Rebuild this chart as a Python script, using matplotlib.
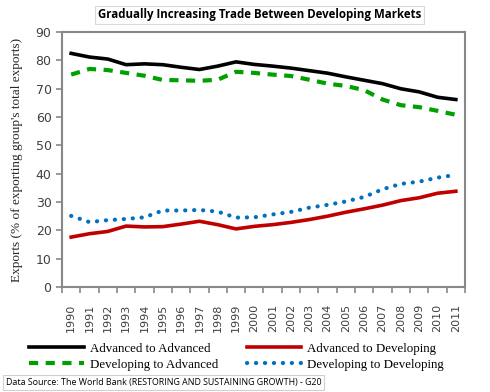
import matplotlib.pyplot as plt

# data
years = [str(y) for y in range(1990, 2012)]
adv_to_adv = [82.5, 81.2, 80.5, 78.5, 78.8, 78.5, 77.6, 76.8, 78.0, 79.5, 78.6, 78.0, 77.3, 76.4, 75.5, 74.2, 73.0, 71.8, 70.0, 68.9, 67.0, 66.2]
dev_to_adv = [75.0, 77.0, 76.6, 75.6, 74.6, 73.1, 73.0, 72.8, 73.2, 76.0, 75.6, 75.0, 74.5, 73.2, 71.8, 71.0, 69.5, 66.2, 64.2, 63.5, 62.2, 60.8]
adv_to_dev = [17.6, 18.8, 19.6, 21.5, 21.2, 21.3, 22.2, 23.2, 22.0, 20.5, 21.4, 22.0, 22.8, 23.8, 25.0, 26.4, 27.6, 28.9, 30.5, 31.5, 33.1, 33.8]
dev_to_dev = [25.1, 22.9, 23.6, 24.0, 24.6, 27.0, 27.0, 27.2, 26.6, 24.5, 24.6, 25.6, 26.5, 28.0, 29.0, 30.2, 31.8, 34.5, 36.4, 37.2, 38.6, 39.6]
yticks = list(range(0, 100, 10))

fig = plt.figure(figsize=(4.9, 3.92), dpi=100, facecolor='white')
ax = fig.add_axes([0.1265, 0.268, 0.8225, 0.65])

x = range(len(years))
l1, = ax.plot(x, adv_to_adv, color='black', linewidth=2.6, label='Advanced to Advanced')
l2, = ax.plot(x, adv_to_dev, color='#c00000', linewidth=2.6, label='Advanced to Developing')
l3, = ax.plot(x, dev_to_adv, color='#00a000', linewidth=3, linestyle=(0, (2.2, 1.8)),
              label='Developing to Advanced')
l4, = ax.plot(x, dev_to_dev, color='#0070c0', linewidth=3, linestyle=(0, (0.05, 2.1)),
              dash_capstyle='round', label='Developing to Developing')

ax.set_xlim(-0.5, len(years) - 0.5)
ax.set_ylim(0, 90)
ax.set_yticks(yticks)
ax.set_yticklabels([str(v) for v in yticks], fontsize=9, color='#404040', family='DejaVu Sans')
# tick marks between categories, labels centred on categories (Excel style)
ax.set_xticks([i - 0.5 for i in range(len(years) + 1)], minor=False)
ax.set_xticklabels([])
ax.set_xticks(list(x), minor=True)
ax.set_xticklabels(years, minor=True, rotation=90, fontsize=8, color='#404040', family='DejaVu Sans')
ax.tick_params(axis='x', which='minor', length=0, pad=12)
ax.tick_params(axis='x', which='major', length=4, width=1.2, color='#888888')
ax.tick_params(axis='y', length=4, width=1.2, color='#888888')
for s in ax.spines.values():
    s.set_color('#888888')
    s.set_linewidth(1.5)

ax.set_ylabel("Exports (% of exporting group's total exports)", family='Liberation Serif',
              fontsize=9.5, color='#262626', labelpad=9)

fig.text(0.53, 0.962, 'Gradually Increasing Trade Between Developing Markets', ha='center', va='center',
         fontsize=8.3, fontweight='bold', family='Open Sans',
         bbox=dict(facecolor='white', edgecolor='#d9d9d9', linewidth=0.8, pad=2))

fig.legend(handles=[l1, l3, l2, l4], loc='center', bbox_to_anchor=(0.483, 0.09), ncol=2, frameon=False,
           prop={'family': 'Liberation Serif', 'size': 9.3}, handlelength=4.2, columnspacing=2.2,
           labelspacing=0.3, handletextpad=0.5)

fig.text(0.012, 0.024, 'Data Source: The World Bank (RESTORING AND SUSTAINING GROWTH) - G20', ha='left',
         va='center', fontsize=6.4, family='Open Sans',
         bbox=dict(facecolor='white', edgecolor='#d0d0d0', linewidth=0.8, pad=2))

fig.savefig('out.png', dpi=100, facecolor='white')
